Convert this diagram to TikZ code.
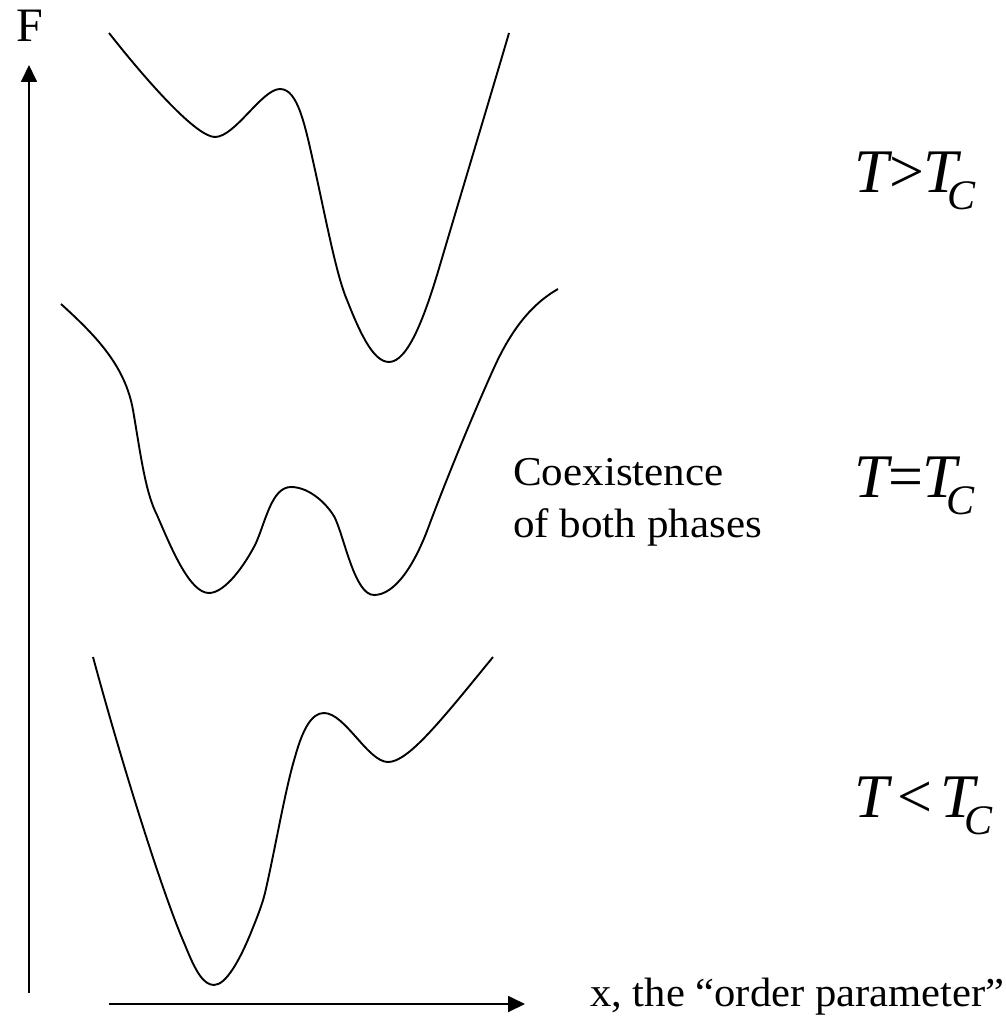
\documentclass[tikz,border=0pt]{standalone}
\usepackage{fontspec}
\setmainfont{Liberation Serif}
\usetikzlibrary{arrows.meta}
\begin{document}
\begin{tikzpicture}[x=1pt,y=-1pt,
  curve/.style={line width=1.9pt, line join=round},
  axis/.style={line width=1.8pt, -{Triangle[width=16pt,length=17pt]}},
  txt/.style={anchor=base west, inner sep=0pt, font=\fontsize{41}{41}\selectfont},
  lbl/.style={anchor=base west, inner sep=0pt, font=\fontsize{62}{62}\selectfont}]
\useasboundingbox (0,0) rectangle (1005,1019);
% axes
\coordinate (ybot) at (29,993);
\coordinate (ytop) at (29,65);
\coordinate (xl) at (109,1004);
\coordinate (xr) at (525,1004);
\draw[axis] (ybot) -- (ytop);
\draw[axis] (xl) -- (xr);
\node[anchor=base west, inner sep=0pt, font=\fontsize{48}{48}\selectfont] (F) at (16,42) {F};
\node[txt] (xlab) at (590,1006) {\scalebox{1.04}[1]{x, the “order parameter”}};
\node[txt] (coex1) at (513,485) {\scalebox{1.05}[1]{Coexistence}};
\node[txt] (coex2) at (513,537) {\scalebox{1.05}[1]{of both phases}};
\node[lbl] (tgt) at (854,193) {\itshape T\upshape\kern1pt>\kern-1pt\itshape T\kern-11pt\raisebox{-17pt}{\fontsize{42}{42}\selectfont C}};
\node[lbl] (teq) at (854,497) {\itshape T\upshape\kern0pt=\kern-1pt\itshape T\kern-11pt\raisebox{-17pt}{\fontsize{42}{42}\selectfont C}};
\node[lbl] (tlt) at (854,817) {\itshape T\upshape\kern9pt<\kern8pt\itshape T\kern-11pt\raisebox{-17pt}{\fontsize{42}{42}\selectfont C}};
% top curve (T > Tc)
\draw[curve] (109,33) .. controls (150,85) and (197,137) .. (215,137)
  .. controls (235,137) and (262,89) .. (280,89)
  .. controls (298,89) and (305,125) .. (315,170)
  .. controls (325,215) and (335,268) .. (345,295)
  .. controls (358,328) and (372,362) .. (389,362)
  .. controls (408,362) and (425,316) .. (440,265)
  .. controls (455,214) and (495,81) .. (509,33);
% middle curve (T = Tc)
\draw[curve] (61,304) .. controls (95,335) and (125,365) .. (133,410)
  .. controls (140,450) and (145,492) .. (157,515)
  .. controls (172,550) and (190,593) .. (209,593)
  .. controls (225,593) and (245,565) .. (256,543)
  .. controls (266,520) and (272,487) .. (291,487)
  .. controls (310,487) and (328,505) .. (335,518)
  .. controls (345,540) and (355,595) .. (374,595)
  .. controls (395,595) and (415,565) .. (430,523)
  .. controls (450,470) and (475,410) .. (493,370)
  .. controls (510,332) and (530,305) .. (558,289);
% bottom curve (T < Tc)
\draw[curve] (93,657) .. controls (125,775) and (165,900) .. (185,945)
  .. controls (195,970) and (203,985) .. (214,985)
  .. controls (226,985) and (240,960) .. (252,930)
  .. controls (258,915) and (262,905) .. (265,893)
  .. controls (275,850) and (285,790) .. (295,757)
  .. controls (303,728) and (312,713) .. (324,713)
  .. controls (345,713) and (368,762) .. (388,762)
  .. controls (408,762) and (440,722) .. (493,657);
\end{tikzpicture}
\end{document}
